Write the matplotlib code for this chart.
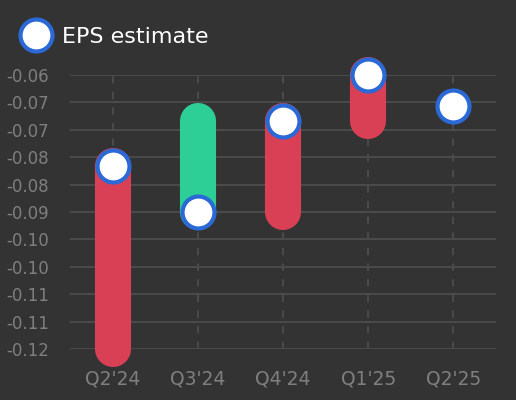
import numpy as np
from matplotlib import pyplot as plt
from matplotlib.lines import Line2D

quarters = ["Q2'24", "Q3'24", "Q4'24", "Q1'25", "Q2'25"]
eps_estimate = [-0.080, -0.090, -0.070, -0.060, -0.0667]
eps_actual = [-0.120, -0.070, -0.090, -0.070, None]
y_ticks = [-0.06, -0.066, -0.072, -0.078, -0.084, -0.090, -0.096, -0.102, -0.108, -0.114, -0.120]

bg = '#333333'
red = '#d94055'
green = '#2ecf96'
blue = '#2b69d6'
grid_col = '#4a4a4a'
tick_col = '#7f7f7f'

fig = plt.figure(figsize=(5.16, 4.0), dpi=100, facecolor=bg)
ax = fig.add_axes([70 / 516, 51 / 400, 426 / 516, 274 / 400], facecolor=bg)

x = np.arange(len(quarters))
for i in x:
    act = eps_actual[i]
    if act is None:
        continue
    col = green if act > eps_estimate[i] else red
    ax.plot([i, i], [eps_estimate[i], act], color=col, lw=26,
            solid_capstyle='round', clip_on=False, zorder=3)

ax.plot(x, eps_estimate, linestyle='none', marker='o', markersize=23,
        markerfacecolor='white', markeredgecolor=blue, markeredgewidth=3,
        clip_on=False, zorder=4)

ax.set_xlim(-0.5, len(quarters) - 0.5)
ax.set_ylim(-0.12, -0.06)
ax.set_xticks(x)
ax.set_xticklabels(quarters)
ax.set_yticks(y_ticks)
ax.set_yticklabels([f"{v:.2f}" for v in y_ticks])
ax.tick_params(axis='y', length=0, pad=15, labelsize=12, labelcolor=tick_col)
ax.tick_params(axis='x', length=0, pad=15, labelsize=13.5, labelcolor=tick_col)

for v in y_ticks:
    ax.axhline(v, color=grid_col, lw=1.5, zorder=1)
for i in x:
    ax.axvline(i, color=grid_col, lw=1.5, linestyle=(0, (3.5, 4)), zorder=1)

for s in ax.spines.values():
    s.set_visible(False)

handle = Line2D([], [], linestyle='none', marker='o', markersize=23,
                markerfacecolor='white', markeredgecolor=blue, markeredgewidth=3)
leg = fig.legend([handle], ['EPS estimate'], loc='center left',
                 bbox_to_anchor=(23 / 516, 1 - 37 / 400), frameon=False,
                 fontsize=16, labelcolor='white', handlelength=1.2,
                 handletextpad=0.55, borderpad=0, borderaxespad=0)

fig.savefig('out.png', dpi=100, facecolor=bg)
